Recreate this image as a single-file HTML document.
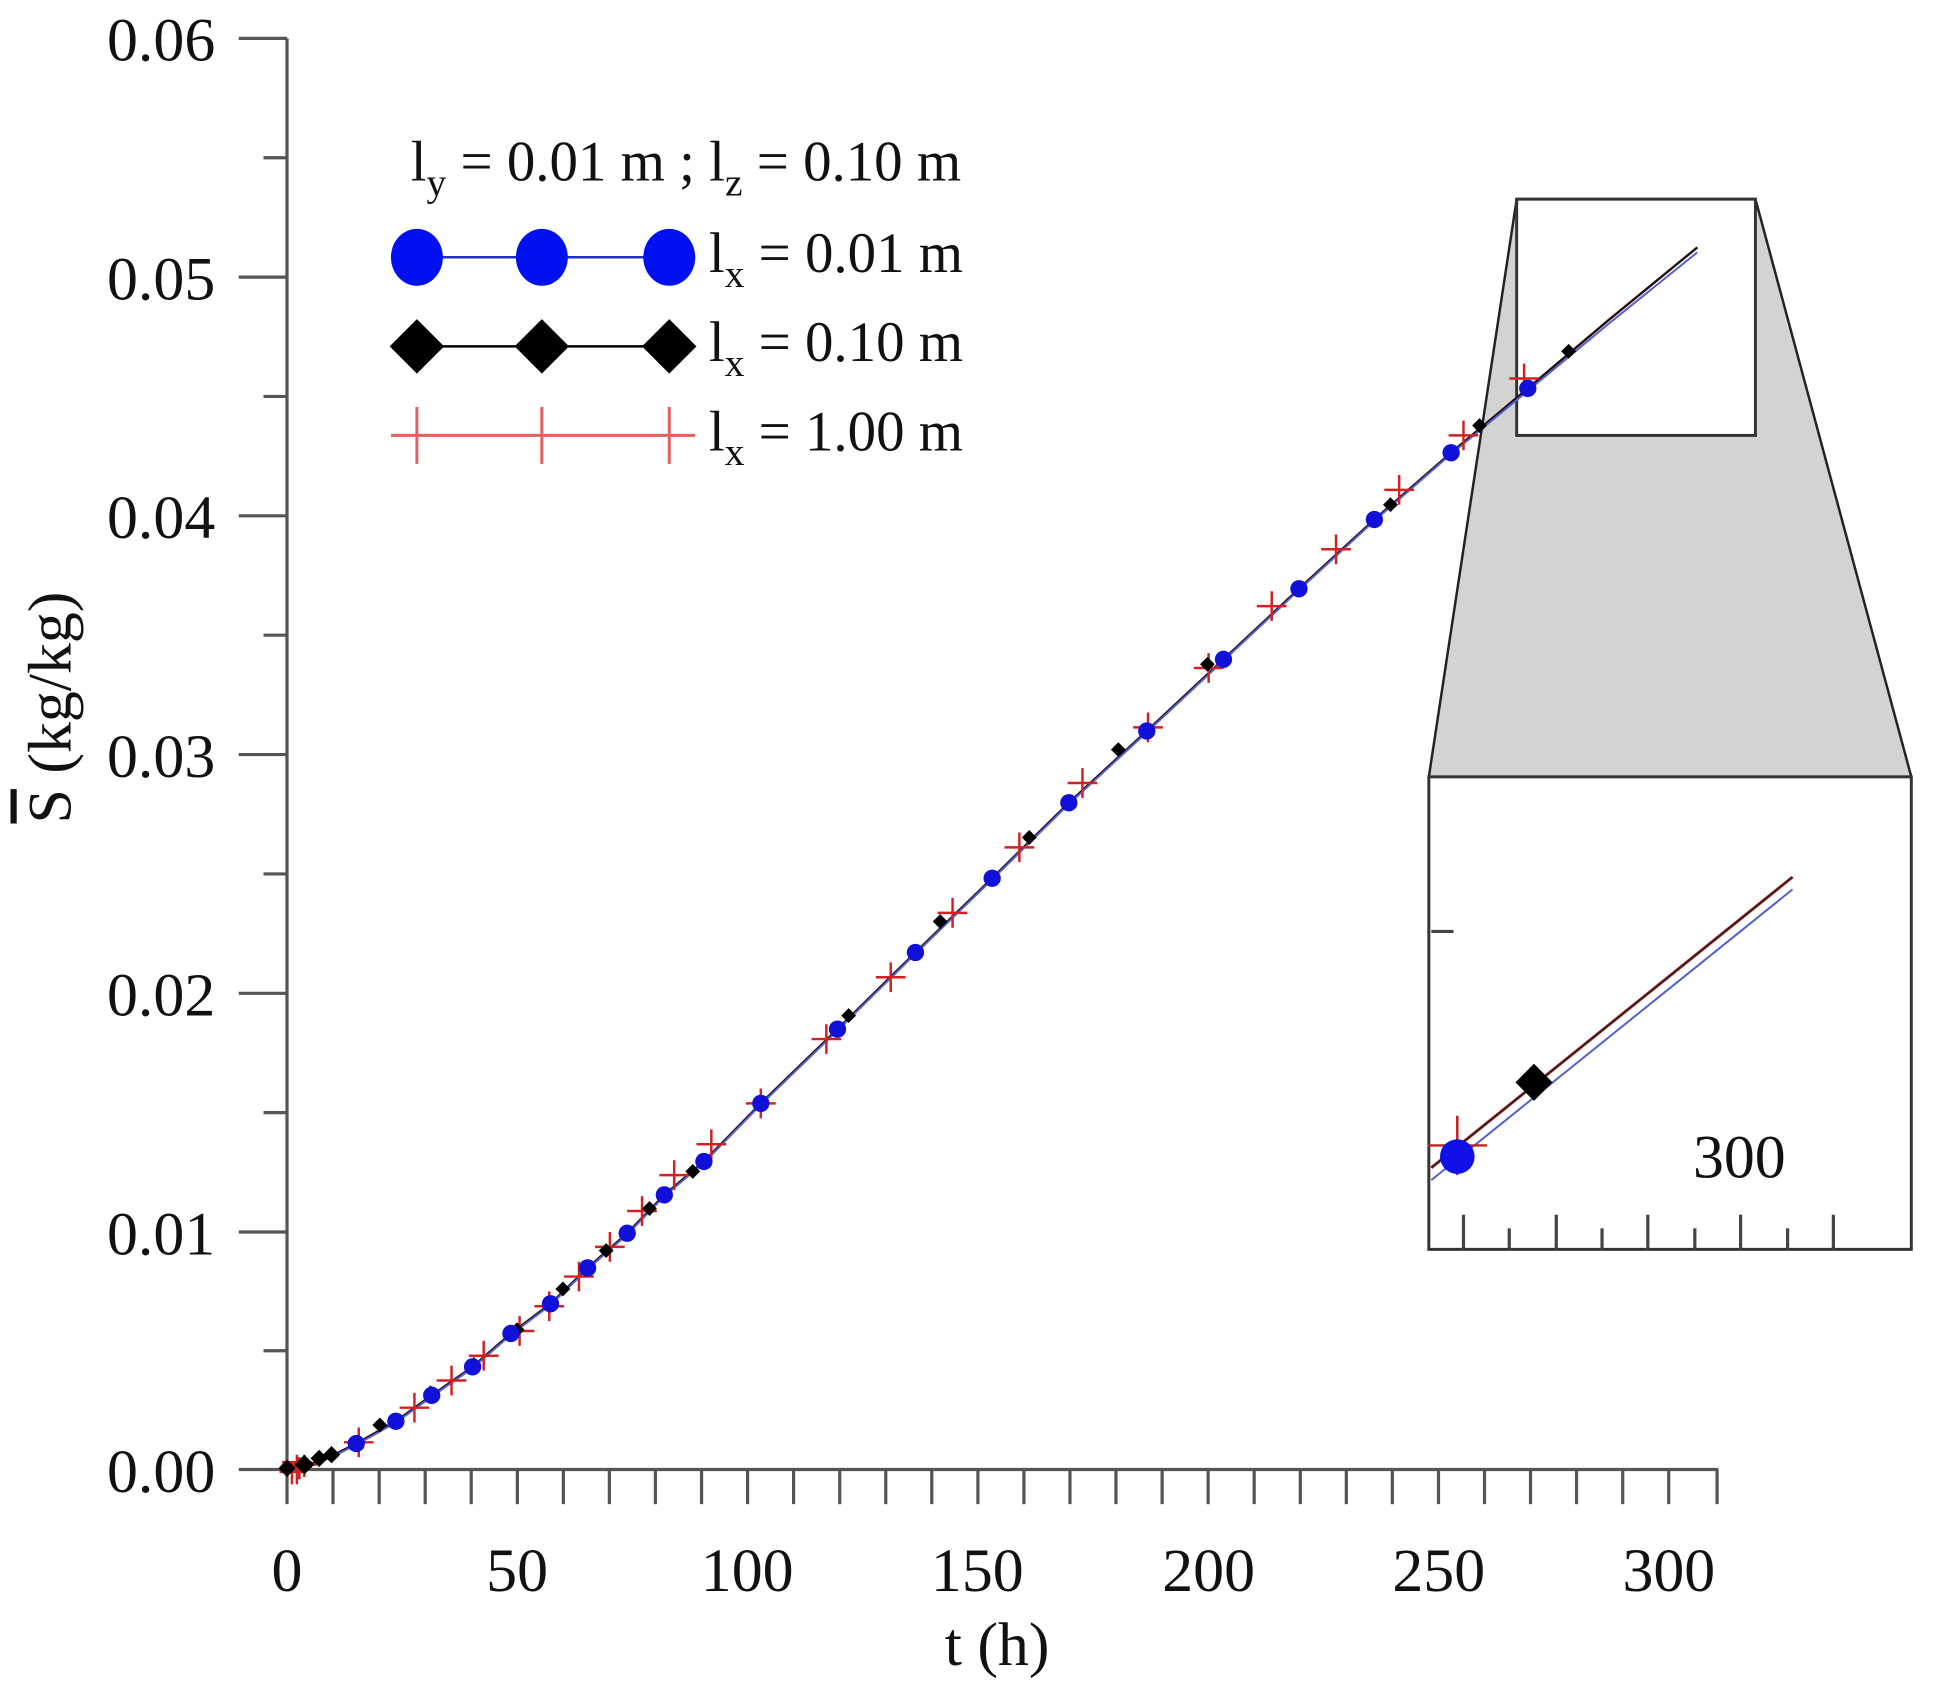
<!DOCTYPE html>
<html><head><meta charset="utf-8"><style>
html,body{margin:0;padding:0;background:#fff;}
svg{display:block;}
text{font-family:"Liberation Serif",serif;fill:#111;}
</style></head><body>
<svg width="1941" height="1699" viewBox="0 0 1569 1373.5" preserveAspectRatio="none" xmlns="http://www.w3.org/2000/svg">
<!-- axes -->
<g stroke="#555" stroke-width="2.6" fill="none">
<line x1="232" y1="31" x2="232" y2="1216"/>
<line x1="193" y1="1188" x2="1389" y2="1188"/>
<line x1="193" y1="31" x2="232" y2="31"/><line x1="193" y1="224" x2="232" y2="224"/><line x1="193" y1="417" x2="232" y2="417"/><line x1="193" y1="610" x2="232" y2="610"/><line x1="193" y1="803" x2="232" y2="803"/><line x1="193" y1="996" x2="232" y2="996"/>
<line x1="213" y1="127.5" x2="232" y2="127.5"/><line x1="213" y1="320.5" x2="232" y2="320.5"/><line x1="213" y1="513.5" x2="232" y2="513.5"/><line x1="213" y1="706.5" x2="232" y2="706.5"/><line x1="213" y1="899.5" x2="232" y2="899.5"/><line x1="213" y1="1092" x2="232" y2="1092"/>
<line x1="269.2" y1="1188" x2="269.2" y2="1216"/><line x1="306.5" y1="1188" x2="306.5" y2="1216"/><line x1="343.7" y1="1188" x2="343.7" y2="1216"/><line x1="380.9" y1="1188" x2="380.9" y2="1216"/><line x1="418.2" y1="1188" x2="418.2" y2="1216"/><line x1="455.4" y1="1188" x2="455.4" y2="1216"/><line x1="492.6" y1="1188" x2="492.6" y2="1216"/><line x1="529.8" y1="1188" x2="529.8" y2="1216"/><line x1="567.1" y1="1188" x2="567.1" y2="1216"/><line x1="604.3" y1="1188" x2="604.3" y2="1216"/><line x1="641.5" y1="1188" x2="641.5" y2="1216"/><line x1="678.8" y1="1188" x2="678.8" y2="1216"/><line x1="716" y1="1188" x2="716" y2="1216"/><line x1="753.2" y1="1188" x2="753.2" y2="1216"/><line x1="790.5" y1="1188" x2="790.5" y2="1216"/><line x1="827.7" y1="1188" x2="827.7" y2="1216"/><line x1="864.9" y1="1188" x2="864.9" y2="1216"/><line x1="902.1" y1="1188" x2="902.1" y2="1216"/><line x1="939.4" y1="1188" x2="939.4" y2="1216"/><line x1="976.6" y1="1188" x2="976.6" y2="1216"/><line x1="1013.8" y1="1188" x2="1013.8" y2="1216"/><line x1="1051.1" y1="1188" x2="1051.1" y2="1216"/><line x1="1088.3" y1="1188" x2="1088.3" y2="1216"/><line x1="1125.5" y1="1188" x2="1125.5" y2="1216"/><line x1="1162.8" y1="1188" x2="1162.8" y2="1216"/><line x1="1200" y1="1188" x2="1200" y2="1216"/><line x1="1237.2" y1="1188" x2="1237.2" y2="1216"/><line x1="1274.4" y1="1188" x2="1274.4" y2="1216"/><line x1="1311.7" y1="1188" x2="1311.7" y2="1216"/><line x1="1348.9" y1="1188" x2="1348.9" y2="1216"/><line x1="1388" y1="1188" x2="1388" y2="1216"/>
</g>
<g font-size="50" text-anchor="end">
<text x="174" y="49">0.06</text><text x="174" y="242">0.05</text><text x="174" y="435">0.04</text><text x="174" y="628">0.03</text><text x="174" y="821">0.02</text><text x="174" y="1014">0.01</text><text x="174" y="1206">0.00</text>
</g>
<g font-size="50" text-anchor="middle">
<text x="232" y="1286">0</text><text x="418" y="1286">50</text><text x="604" y="1286">100</text><text x="790" y="1286">150</text><text x="977" y="1286">200</text><text x="1163" y="1286">250</text><text x="1349" y="1286">300</text>
<text x="806" y="1346">t (h)</text>
<text x="0" y="0" transform="translate(57,572) rotate(-90)"><tspan text-decoration="overline">S</tspan> (kg/kg)</text>
</g>
<!-- inset connector -->
<polygon points="1226,161 1155,628 1545,628 1419,161" fill="#d3d3d3" stroke="#222" stroke-width="2"/>
<rect x="1226" y="161" width="193" height="191" fill="#fff" stroke="#333" stroke-width="2.4"/>
<!-- curves -->
<polyline fill="none" stroke="#b02020" stroke-width="2" points="232,1188 250,1184 268,1177 288,1167 320,1149 349,1128 382,1105 413,1078 445,1054 475,1025 507,997 537,966 569,939 615,892 677,832 740,770 802,710 864,649 927,591 989,533 1050,476 1111,420 1173,366 1235,314 1300,259 1372,200"/>
<polyline fill="none" stroke="#111" stroke-width="1.6" points="232,1188 250,1184 268,1177 288,1167 320,1149 349,1128 382,1105 413,1078 445,1054 475,1025 507,997 537,966 569,939 615,892 677,832 740,770 802,710 864,649 927,591 989,533 1050,476 1111,420 1173,366 1235,314 1300,259 1372,200"/>
<polyline fill="none" stroke="#5060d0" stroke-width="1.6" points="232,1189 250,1185 268,1178 288,1168 320,1150 349,1129 382,1106 413,1079 445,1055 475,1026 507,998 537,967 569,940 615,893 677,833 740,771 802,711 864,650 927,592 989,534 1050,477 1111,421 1173,367 1235,316 1300,262 1372,204"/>
<!-- red crosses -->
<g stroke="#d42020" stroke-width="2">
<path d="M228,1182h24M240,1176v24 M232,1186h20M242,1178v18 M236,1184h20M246,1176v18 M226,1190h20M236,1182v18 M278,1166h24M290,1154v24 M323,1138h24M335,1126v24 M353,1116h24M365,1104v24 M379,1096h24M391,1084v24 M408,1076h24M420,1064v24 M432,1056h24M444,1044v24 M456,1032h24M468,1020v24 M481,1008h24M493,996v24 M507,979h24M519,967v24 M533,950h24M545,938v24 M563,925h24M575,913v24 M603,892h24M615,880v24 M656,840h24M668,828v24 M708,790h24M720,778v24 M758,738h24M770,726v24 M812,685h24M824,673v24 M863,633h24M875,621v24 M916,588h24M928,576v24 M965,540h24M977,528v24 M1016,490h24M1028,478v24 M1068,444h24M1080,432v24 M1119,396h24M1131,384v24 M1171,352h24M1183,340v24 M1220,306h24M1232,294v24"/>
</g>
<!-- black diamonds -->
<g fill="#000">
<path d="M232,1180l7,7l-7,7l-7,-7z M246,1176l8,8l-8,8l-8,-8z M258,1172l7,7l-7,7l-7,-7z M268,1169l7,7l-7,7l-7,-7z M307,1146l6,6l-6,6l-6,-6z M348,1120l6,6l-6,6l-6,-6z M383,1097l6,6l-6,6l-6,-6z M418,1069l6,6l-6,6l-6,-6z M455,1036l6,6l-6,6l-6,-6z M490,1005l6,6l-6,6l-6,-6z M525,971l6,6l-6,6l-6,-6z M560,941l6,6l-6,6l-6,-6z M615,885l6,6l-6,6l-6,-6z M686,815l6,6l-6,6l-6,-6z M760,739l6,6l-6,6l-6,-6z M832,671l6,6l-6,6l-6,-6z M904,600l6,6l-6,6l-6,-6z M976,531l6,6l-6,6l-6,-6z M1051,469l6,6l-6,6l-6,-6z M1124,402l6,6l-6,6l-6,-6z M1196,338l6,6l-6,6l-6,-6z M1268,278l6,6l-6,6l-6,-6z"/>
</g>
<!-- blue circles -->
<g fill="#1010d8">
<circle cx="288" cy="1167" r="7"/><circle cx="320" cy="1149" r="7"/><circle cx="349" cy="1128" r="7"/><circle cx="382" cy="1105" r="7"/><circle cx="413" cy="1078" r="7"/><circle cx="445" cy="1054" r="7"/><circle cx="475" cy="1025" r="7"/><circle cx="507" cy="997" r="7"/><circle cx="537" cy="966" r="7"/><circle cx="569" cy="939" r="7"/><circle cx="615" cy="892" r="7"/><circle cx="677" cy="832" r="7"/><circle cx="740" cy="770" r="7"/><circle cx="802" cy="710" r="7"/><circle cx="864" cy="649" r="7"/><circle cx="927" cy="591" r="7"/><circle cx="989" cy="533" r="7"/><circle cx="1050" cy="476" r="7"/><circle cx="1111" cy="420" r="7"/><circle cx="1173" cy="366" r="7"/><circle cx="1235" cy="314" r="7"/>
</g>
<!-- big inset -->
<rect x="1155" y="628" width="390" height="382" fill="#fff" stroke="#333" stroke-width="2.4"/>
<g stroke="#444" stroke-width="2.6">
<line x1="1157" y1="753" x2="1175" y2="753"/>
<line x1="1183" y1="1010" x2="1183" y2="982"/><line x1="1258" y1="1010" x2="1258" y2="982"/><line x1="1332" y1="1010" x2="1332" y2="982"/><line x1="1407" y1="1010" x2="1407" y2="982"/><line x1="1482" y1="1010" x2="1482" y2="982"/>
<line x1="1220" y1="1010" x2="1220" y2="993"/><line x1="1295" y1="1010" x2="1295" y2="993"/><line x1="1370" y1="1010" x2="1370" y2="993"/><line x1="1445" y1="1010" x2="1445" y2="993"/>
</g>
<text x="1406" y="952" font-size="50" text-anchor="middle">300</text>
<line x1="1157" y1="944" x2="1449" y2="709" stroke="#b02020" stroke-width="2.4"/>
<line x1="1157" y1="944" x2="1449" y2="709" stroke="#222" stroke-width="1.2"/>
<line x1="1157" y1="954" x2="1449" y2="719" stroke="#5060d0" stroke-width="1.6"/>
<path d="M1154,926h48M1178,902v48" stroke="#c02020" stroke-width="2"/>
<circle cx="1178" cy="935" r="14" fill="#1010e8"/>
<path d="M1240,860l15,15l-15,15l-15,-15z" fill="#000"/>
<!-- legend -->
<text x="332" y="146" font-size="46">l<tspan font-size="32" dy="12">y</tspan><tspan dy="-12"> = 0.01 m ; l</tspan><tspan font-size="32" dy="12">z</tspan><tspan dy="-12"> = 0.10 m</tspan></text>
<line x1="337" y1="208" x2="541" y2="208" stroke="#2030c0" stroke-width="2"/>
<ellipse cx="337" cy="208" rx="21" ry="23" fill="#0010f0"/><ellipse cx="438" cy="208" rx="21" ry="23" fill="#0010f0"/><ellipse cx="541" cy="208" rx="21" ry="23" fill="#0010f0"/>
<text x="573" y="220" font-size="46">l<tspan font-size="32" dy="12">x</tspan><tspan dy="-12"> = 0.01 m</tspan></text>
<line x1="337" y1="280" x2="541" y2="280" stroke="#000" stroke-width="2"/>
<path d="M337,258l22,22l-22,22l-22,-22z M438,258l22,22l-22,22l-22,-22z M541,258l22,22l-22,22l-22,-22z" fill="#000"/>
<text x="573" y="292" font-size="46">l<tspan font-size="32" dy="12">x</tspan><tspan dy="-12"> = 0.10 m</tspan></text>
<path d="M316,352H562 M337,329v46 M438,329v46 M541,329v46" stroke="#e06060" stroke-width="2.4" fill="none"/>
<text x="573" y="364" font-size="46">l<tspan font-size="32" dy="12">x</tspan><tspan dy="-12"> = 1.00 m</tspan></text>
</svg>
</body></html>
